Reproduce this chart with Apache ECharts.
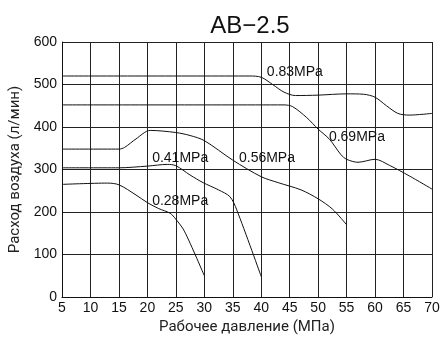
<!DOCTYPE html>
<html>
<head>
<meta charset="utf-8">
<script src="https://cdn.jsdelivr.net/npm/echarts@6/dist/echarts.min.js"></script>
<style>
  html, body { margin: 0; padding: 0; background: #fff; }
  #chart { width: 443px; height: 338px; }
</style>
</head>
<body>
<div id="chart"></div>
<script>
// давление по оси X, расход по оси Y
let xTicks = { min: 5, max: 70, step: 5 }
let yTicks = { min: 0, max: 600, step: 100 }

let p083 = [[5, 520], [38, 520], [40, 517], [42, 500], [44, 482], [46, 474], [50, 475], [55, 478], [58, 477], [60, 470], [62, 450], [64, 432], [66, 428], [70, 432]]
let p069 = [[5, 452], [44, 452], [45.5, 448], [48, 422], [50, 395], [52, 371], [54, 335], [55, 324], [57, 317], [60, 324], [62.5, 310], [66, 285], [70, 254]]
let p056 = [[5, 348], [15, 348], [16, 352], [18, 372], [20.5, 392], [25, 387], [27.5, 380], [30, 368], [35, 322], [40, 283], [43, 269], [47, 252], [50, 231], [52.5, 207], [55, 170]]
let p041 = [[5, 304], [15, 304], [20, 308], [23.5, 312], [25, 309], [27.5, 287], [29.8, 269], [32.5, 252], [34.5, 236], [35.7, 205], [40, 48]]
let p028 = [[5, 265], [13, 268], [15, 264], [18, 240], [20, 222], [22, 208], [24, 197], [25, 183], [26.5, 155], [30, 50]]

let seriesNames = ['0.83MPa', '0.69MPa', '0.56MPa', '0.41MPa', '0.28MPa']
// точки привязки подписей
let labelAt = [[40.9, 528], [51.8, 376], [36, 326], [20.75, 326], [20.75, 226]]

let chart = echarts.init(document.getElementById('chart'))
let curves = [p083, p069, p056, p041, p028]

chart.setOption({
  animation: false,
  title: {
    text: 'AB\u22122.5',
    left: 245,
    top: 9,
    textAlign: 'center',
    textStyle: {
      color: '#111',
      fontSize: 24,
      fontWeight: 'normal',
      fontFamily: 'Liberation Sans'
    }
  },
  grid: {
    left: 62,
    right: 11,
    top: 42,
    bottom: 41,
    outerBoundsMode: 'none'
  },
  xAxis: {
    type: 'value',
    min: xTicks.min,
    max: xTicks.max,
    interval: xTicks.step,
    name: 'Рабочее давление (МПа)',
    nameLocation: 'middle',
    nameGap: 23,
    nameTextStyle: { color: '#222', fontSize: 15, fontFamily: 'Roboto' },
    axisLine: { lineStyle: { color: '#111', width: 1 } },
    axisTick: { show: false },
    axisLabel: { color: '#111', fontSize: 14, fontFamily: 'Liberation Sans', margin: 4 },
    splitLine: { show: true, lineStyle: { color: '#222', width: 1 } }
  },
  yAxis: {
    type: 'value',
    min: yTicks.min,
    max: yTicks.max,
    interval: yTicks.step,
    name: 'Расход воздуха (л/мин)',
    nameLocation: 'middle',
    nameGap: 36,
    nameTextStyle: { color: '#222', fontSize: 15, fontFamily: 'Roboto' },
    axisLine: { show: true, lineStyle: { color: '#111', width: 1 } },
    axisTick: { show: false },
    axisLabel: { color: '#111', fontSize: 14, fontFamily: 'Liberation Sans', margin: 5 },
    splitLine: { show: true, lineStyle: { color: '#222', width: 1 } }
  },
  series: curves.map((d, i) => ({
    name: seriesNames[i],
    type: 'line',
    data: d,
    smooth: 0.3,
    showSymbol: false,
    lineStyle: { color: '#111', width: 1 },
    markPoint: {
      symbol: 'circle',
      symbolSize: 1,
      itemStyle: { color: 'rgba(0,0,0,0)' },
      data: [{ coord: labelAt[i] }],
      label: {
        show: true,
        formatter: seriesNames[i],
        position: 'right',
        distance: 0,
        color: '#111',
        fontSize: 14,
        fontFamily: 'Liberation Sans'
      }
    }
  }))
})
</script>
</body>
</html>
